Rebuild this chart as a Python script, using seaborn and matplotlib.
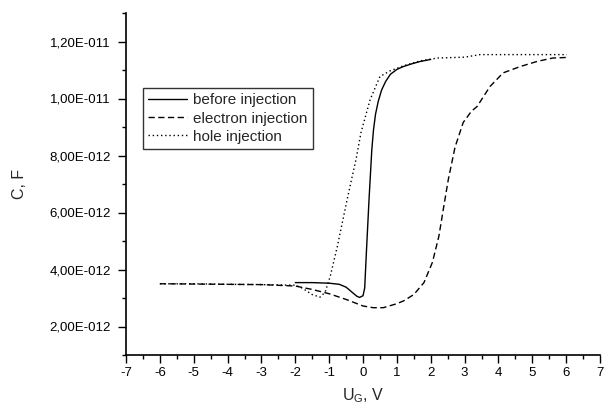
import numpy as np
import pandas as pd
import matplotlib
matplotlib.use("Agg")
import matplotlib.pyplot as plt
import seaborn as sns
from matplotlib.ticker import MultipleLocator, FuncFormatter, FixedLocator

# ---- data (capacitance in pF, voltage in V) ----
before_x = [-2.0, -1.5, -1.0, -0.7, -0.5, -0.3, -0.18, -0.1, 0.0, 0.05, 0.1, 0.18, 0.26, 0.31, 0.37, 0.45, 0.55, 0.67, 0.81, 1.0, 1.19, 1.45, 1.69, 2.0]
before_c = [3.54, 3.54, 3.52, 3.48, 3.38, 3.18, 3.06, 3.02, 3.08, 3.35, 4.60, 6.50, 8.20, 8.90, 9.45, 9.90, 10.30, 10.60, 10.85, 11.02, 11.12, 11.22, 11.30, 11.37]

electron_x = [-6.0, -5.0, -4.0, -3.0, -2.0, -1.5, -1.0, -0.5, 0.0, 0.3, 0.6, 1.0, 1.2, 1.5, 1.8, 2.05, 2.24, 2.37, 2.52, 2.72, 2.96, 3.2, 3.37, 3.75, 4.14, 4.64, 5.14, 5.6, 6.02]
electron_c = [3.50, 3.49, 3.48, 3.47, 3.42, 3.30, 3.15, 2.95, 2.72, 2.66, 2.66, 2.80, 2.90, 3.12, 3.54, 4.25, 5.16, 6.10, 7.16, 8.30, 9.16, 9.55, 9.72, 10.42, 10.90, 11.12, 11.30, 11.42, 11.44]

hole_x = [-6.0, -5.0, -4.0, -3.0, -2.0, -1.8, -1.5, -1.27, -1.12, -0.97, -0.76, -0.45, -0.2, -0.06, 0.21, 0.5, 0.8, 1.2, 1.69, 2.2, 3.0, 3.46, 4.5, 6.02]
hole_c = [3.50, 3.50, 3.48, 3.47, 3.45, 3.35, 3.12, 3.03, 3.20, 3.75, 4.80, 6.56, 7.90, 8.80, 9.96, 10.77, 10.97, 11.15, 11.32, 11.42, 11.45, 11.54, 11.54, 11.54]

labels = ["before injection", "electron injection", "hole injection"]
y_major = [2, 4, 6, 8, 10, 12]

frames = []
for lab, xs, cs in zip(labels, [before_x, electron_x, hole_x], [before_c, electron_c, hole_c]):
    frames.append(pd.DataFrame({"U": xs, "C": np.array(cs) * 1e-12, "series": lab}))
df = pd.concat(frames, ignore_index=True)

sns.set_style("white")
plt.rcParams['font.family'] = ['Liberation Sans', 'DejaVu Sans']

fig = plt.figure(figsize=(6.06, 4.08), dpi=100)
ax = fig.add_axes([126/606, 1-355/408, 474/606, 342/408])

styles = {"before injection": "-", "electron injection": (0, (4.5, 2.5)), "hole injection": (0, (1, 2))}
for lab in labels:
    sub = df[df["series"] == lab]
    sns.lineplot(data=sub, x="U", y="C", ax=ax, color="black", linewidth=1.0,
                 linestyle=styles[lab], label=lab, sort=False, estimator=None)

ax.set_xlim(-7, 7)
ax.set_ylim(1e-12, 13e-12)
ax.xaxis.set_major_locator(MultipleLocator(1))
ax.xaxis.set_minor_locator(MultipleLocator(0.5))
ax.yaxis.set_major_locator(FixedLocator([v * 1e-12 for v in y_major]))
ax.yaxis.set_minor_locator(FixedLocator([v * 1e-12 for v in [1, 3, 5, 7, 9, 11, 13]]))

def yfmt(v, pos):
    if v <= 0:
        return "0"
    e = int(np.floor(np.log10(v) + 1e-9))
    m = v / 10**e
    return f"{m:.2f}".replace(".", ",") + f"E{e:04d}"

ax.yaxis.set_major_formatter(FuncFormatter(yfmt))
ax.xaxis.set_major_formatter(FuncFormatter(lambda v, p: f"{int(round(v))}"))

for s in ["top", "right"]:
    ax.spines[s].set_visible(False)
for s in ["left", "bottom"]:
    ax.spines[s].set_color("black")
    ax.spines[s].set_linewidth(1.2)

ax.tick_params(which="major", direction="out", length=6, width=1.0, colors="black", labelsize=9.5, pad=3)
ax.tick_params(axis="y", which="major", pad=5)
ax.tick_params(which="minor", direction="out", length=3, width=1.0, colors="black")
ax.tick_params(axis="x", which="both", bottom=True)
ax.tick_params(axis="y", which="both", left=True)

ax.set_xlabel(r"U$_\mathregular{G}$, V", fontsize=11.5, labelpad=5)
ax.set_ylabel("C, F", fontsize=11.5, labelpad=16)

leg = ax.legend(loc="upper left", bbox_to_anchor=(0.036, 0.781), fontsize=11,
                frameon=True, fancybox=False, handlelength=2.5, borderpad=0.35,
                labelspacing=0.28, handletextpad=0.45, borderaxespad=0)
leg.get_frame().set_edgecolor("black")
leg.get_frame().set_linewidth(1.0)

fig.savefig("out.png", dpi=100)
